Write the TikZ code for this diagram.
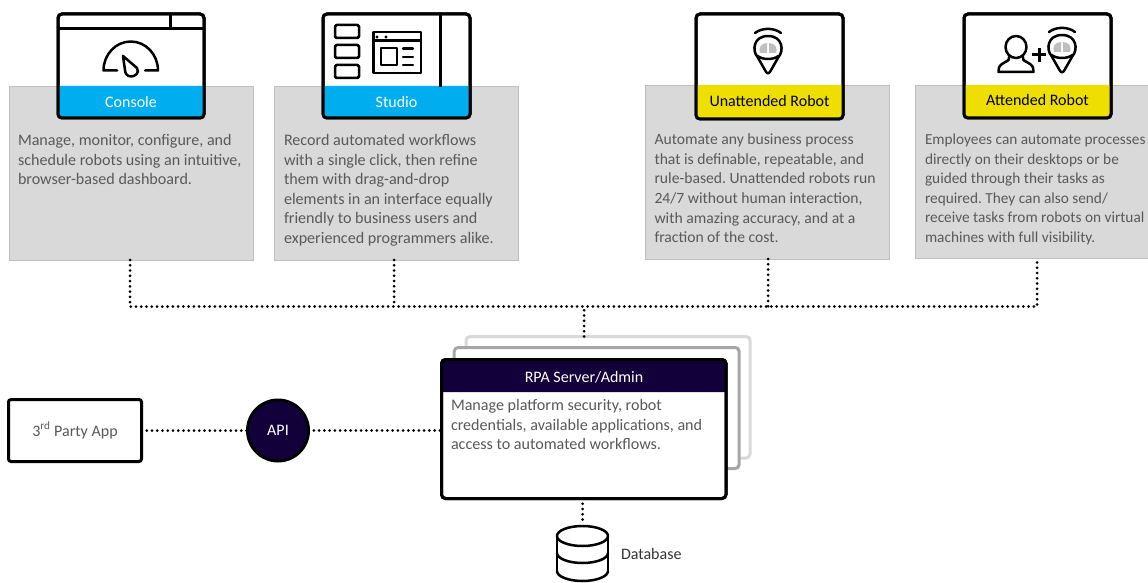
\documentclass[tikz,border=0pt]{standalone}
\usepackage{fontspec}
\setmainfont{Carlito}
\definecolor{panelgray}{HTML}{D9D9D9}
\definecolor{panelline}{HTML}{BFBFBF}
\definecolor{txtgray}{HTML}{595959}
\definecolor{cblue}{HTML}{00AEEF}
\definecolor{cyellow}{HTML}{EFDF00}
\definecolor{navy}{HTML}{12003A}
\definecolor{eyegray}{HTML}{BFBFBF}
\tikzset{
  every node/.append style={outer sep=0pt},
  panel/.style={draw=panelline,line width=.6pt,fill=panelgray,anchor=north west,minimum width=244pt,inner sep=0pt},
  body/.style={anchor=north west,align=left,inner sep=0pt,text=txtgray,font=\fontsize{16.1}{19.55}\selectfont},
  bodyn/.style={body,font=\fontsize{15.65}{19.55}\selectfont},
  bodys/.style={body,font=\fontsize{15.3}{19.55}\selectfont},
  cardbox/.style={draw=black,line width=3pt,rounded corners=4pt,anchor=north west,inner sep=0pt,minimum width=146pt,minimum height=104pt},
  cardtext/.style={inner sep=0pt,font=\fontsize{16}{18}\selectfont},
  dotline/.style={line width=3pt,line cap=round,dash pattern=on 0pt off 5.25pt},
  icon/.style={line width=2.5pt,line join=round,line cap=round},
  thin icon/.style={line width=2.2pt,line join=round,line cap=round},
  robot/.pic={
    \draw[icon] (-13,-16) .. controls (-6,-21.5) and (6,-21.5) .. (13,-16);
    \draw[icon] (-10.5,8) .. controls (-16,2) and (-15,-13) .. (0,-13) .. controls (15,-13) and (16,2) .. (10.5,8) -- (2.5,22) .. controls (1,25) and (-1,25) .. (-2.5,22) -- cycle;
    \draw[icon] (-10.5,7) .. controls (-5,11) and (5,11) .. (10.5,7);
    \fill[eyegray] (-1,-6) -- (-1,4) -- (-8,4) .. controls (-10,-1) and (-7,-6) .. (-1,-6) -- cycle;
    \fill[eyegray] (1,-6) -- (1,4) -- (8,4) .. controls (10,-1) and (7,-6) .. (1,-6) -- cycle;
  }
}
\begin{document}
\frenchspacing
\begin{tikzpicture}[x=1pt,y=-1pt]
\useasboundingbox (0,0) rectangle (1148,583);
\clip (0,0) rectangle (1148,583);

% panels
\node[panel,minimum height=174pt] (p1) at (9,86) {};
\node[panel,minimum height=174pt] (p2) at (274,86) {};
\node[panel,minimum height=174pt] (p3) at (645,85) {};
\node[panel,minimum height=173pt] (p4) at (915,85) {};

\node[body] (t1) at (18,134.5) {Manage, monitor, configure, and\\schedule robots using an intuitive,\\browser-based dashboard.};
\node[body] (t2) at (284,134.5) {Record automated workflows\\with a single click, then refine\\them with drag-and-drop\\elements in an interface equally\\friendly to business users and\\experienced programmers alike.};
\node[bodyn] (t3) at (654.5,134) {Automate any business process\\that is definable, repeatable, and\\rule-based. Unattended robots run\\24/7 without human interaction,\\with amazing accuracy, and at a\\fraction of the cost.};
\node[bodys] (t4) at (925,134) {Employees can automate processes\\directly on their desktops or be\\guided through their tasks as\\required. They can also send/\\receive tasks from robots on virtual\\machines with full visibility.};

% cards
\node[cardbox,fill=white] (c1) at (58,14) {};
\fill[cblue] (58,86) [rounded corners=4pt] -- (58,118) -- (204,118) [sharp corners] -- (204,86) -- cycle;
\node[cardbox] at (58,14) {};
\node[cardtext,text=white] (l1) at (131,102) {Console};
\draw[line width=3pt] (58,29) -- (204,29);
\draw[line width=3pt] (170.5,14) -- (170.5,29);
\draw[icon] (117,70.5) -- (103.5,70.5) arc[start angle=180,end angle=360,x radius=27.25,y radius=29] -- (145,70.5);
\draw[icon] (123,56) -- (137,68) .. controls (140,73) and (135,76.5) .. (131,76.5) .. controls (127,76.5) and (125,73) .. (125,70) -- cycle;

\node[cardbox,fill=white,minimum width=147pt] (c2) at (323,14) {};
\fill[cblue] (323,86) [rounded corners=4pt] -- (323,118) -- (470,118) [sharp corners] -- (470,86) -- cycle;
\node[cardbox,minimum width=147pt] at (323,14) {};
\node[cardtext,text=white] (l2) at (396.5,102) {Studio};
\draw[line width=3pt] (440,14) -- (440,87);
\foreach \yy in {25,45,65}{\draw[icon,rounded corners=1.5pt] (335,\yy) rectangle (359,\yy+13);}
\draw[icon] (373.5,32) rectangle (421,73);
\draw[thin icon] (373.5,40.5) -- (421,40.5);
\fill (377,37) circle[radius=1.6] (386,37) circle[radius=1.6];
\draw[thin icon] (381,48) rectangle (397,65);
\draw[thin icon] (403,48.5) -- (413,48.5) (403,57) -- (413,57) (403,65) -- (413,65);

\node[cardbox,fill=white,minimum width=147pt,minimum height=105pt] (c3) at (696,14) {};
\fill[cyellow] (696,85) [rounded corners=4pt] -- (696,119) -- (843,119) [sharp corners] -- (843,85) -- cycle;
\node[cardbox,minimum width=147pt,minimum height=105pt] at (696,14) {};
\node[cardtext] (l3) at (769.5,101) {Unattended Robot};
\pic at (768,49) {robot};

\node[cardbox,fill=white,minimum width=147pt] (c4) at (964,14) {};
\fill[cyellow] (964,85) [rounded corners=4pt] -- (964,118) -- (1111,118) [sharp corners] -- (1111,85) -- cycle;
\node[cardbox,minimum width=147pt] at (964,14) {};
\node[cardtext] (l4) at (1037.5,100) {Attended Robot};
\draw[icon] (1016,47) ellipse[x radius=10.5,y radius=11];
\draw[icon] (1009,57) .. controls (1010,61) and (1006,61) .. (1002,64) .. controls (999,66) and (998,69) .. (998.5,72) -- (1033.5,72) .. controls (1034,69) and (1033,66) .. (1030,64) .. controls (1026,61) and (1022,61) .. (1023,57);
\draw[line width=3pt] (1032,55) -- (1046,55) (1039,48) -- (1039,62);
\pic at (1062,48) {robot};

% server stack
\node[draw=panelgray,line width=3pt,fill=white,rounded corners=4pt,minimum width=284pt,minimum height=121.5pt,anchor=north west,inner sep=0pt] (s3) at (466,336.5) {};
\node[draw=black!35,line width=3pt,fill=white,rounded corners=4pt,minimum width=285pt,minimum height=121pt,anchor=north west,inner sep=0pt] (s2) at (454.2,347.5) {};
\node[draw=black,line width=3pt,fill=white,rounded corners=4pt,minimum width=284.5pt,minimum height=139pt,anchor=north west,inner sep=0pt] (s1) at (441.5,359.5) {};
\fill[navy] (441.5,392) [rounded corners=4pt] -- (441.5,359.5) -- (726,359.5) [sharp corners] -- (726,392) -- cycle;
\node[draw=black,line width=3pt,rounded corners=4pt,minimum width=284.5pt,minimum height=139pt,anchor=north west,inner sep=0pt] at (441.5,359.5) {};
\node[cardtext,text=white] (l5) at (584,377) {RPA Server/Admin};
\node[body] (t5) at (451,399.5) {Manage platform security, robot\\credentials, available applications, and\\access to automated workflows.};

% third party and API
\node[draw=black,line width=3pt,rounded corners=2.5pt,fill=white,minimum width=133pt,minimum height=62pt,anchor=north west,inner sep=0pt,text=txtgray,font=\fontsize{16}{18}\selectfont] (app) at (8.5,399.5) {3\textsuperscript{rd} Party App};
\node[circle,draw=black,line width=3pt,fill=navy,text=white,minimum size=61pt,inner sep=0pt,font=\fontsize{16}{18}\selectfont] (api) at (278,430.5) {API};

% database
\node[minimum width=50pt,minimum height=58pt,inner sep=0pt] (db) at (582.5,553) {};
\draw[icon] (557,536) -- (557,571);
\draw[icon] (608,536) -- (608,571);
\draw[icon] (582.5,536) ellipse[x radius=25.5,y radius=10];
\draw[icon] (557,553) arc[start angle=180,end angle=0,x radius=25.5,y radius=10];
\draw[icon] (557,571) arc[start angle=180,end angle=0,x radius=25.5,y radius=10];
\node[anchor=west,inner sep=0pt,text=black!80,font=\fontsize{16}{18}\selectfont] (dbl) at (621,554) {Database};

% connectors
\coordinate (bus1) at (130,306.5);
\coordinate (bus4) at (1037,306.5);
\draw[dotline] ([xshift=-1pt]p1.south) -- (bus1) -- (bus4) -- (p4.south);
\draw[dotline] ([xshift=-2pt]p2.south) -- ([xshift=-2pt]p2.south |- bus1);
\draw[dotline] ([xshift=1pt]p3.south) -- ([xshift=1pt]p3.south |- bus1);
\draw[dotline] (s3.north -| l5) -- (l5 |- bus1);
\draw[dotline] (app.east) -- (api.west);
\draw[dotline] (api.east) -- (s1.west |- api);
\draw[dotline] (s1.south -| db) -- (db.north);
\end{tikzpicture}
\end{document}
